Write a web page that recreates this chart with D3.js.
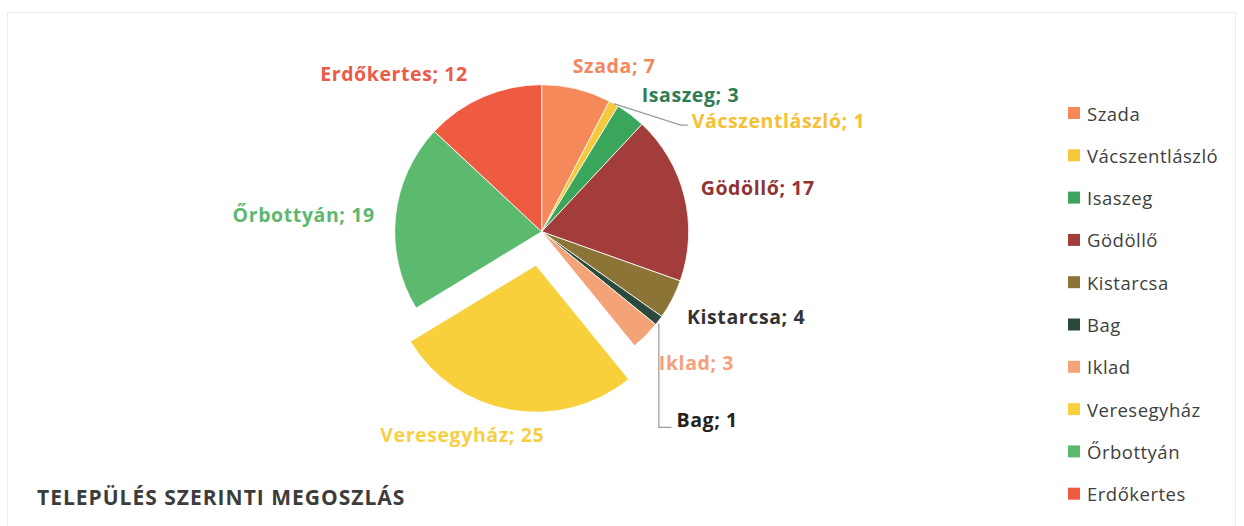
<!DOCTYPE html>
<html>
<head>
<meta charset="utf-8">
<script src="https://cdn.jsdelivr.net/npm/d3@7"></script>
<style>
  body { margin: 0; background: #fff; }
  svg { display: block; font-family: "Open Sans", "Noto Sans", sans-serif; }
</style>
</head>
<body>
<div id="chart"></div>
<script>
// Adatok – település szerinti megoszlás
const towns = ['Szada', 'Vácszentlászló', 'Isaszeg', 'Gödöllő', 'Kistarcsa', 'Bag', 'Iklad', 'Veresegyház', 'Őrbottyán', 'Erdőkertes'];
const counts = [7, 1, 3, 17, 4, 1, 3, 25, 19, 12];

const sliceColors = ['#f5895a', '#f6c83a', '#3aa65c', '#a23d3c', '#8c7436', '#2c4a3c', '#f4a379', '#f8d03c', '#5cba6e', '#ee5b40'];
const labelColors = ['#f4875c', '#f6c036', '#2f7c55', '#8e3434', '#333333', '#222222', '#f4a07c', '#f6cf46', '#5cb870', '#ec5a48'];

// címke eltolások (px) a középponttól számított alappozícióhoz képest
const labelNudge = [[31, 4], [151, 41], [43, 2], [46, -3], [49, 4], [26, 82], [31, 7], [-44, -3], [-64, 1], [-78, 2]];
const leaderFor = { 'Vácszentlászló': 'elbow', 'Bag': 'vertical' };
const explodedTown = 'Veresegyház';

const width = 1244, height = 526;
const cx = 541.7, cy = 231.7, radius = 147;
const explodeDist = 34, labelR = 175;

const svg = d3.select('#chart').append('svg')
  .attr('width', width)
  .attr('height', height);

// halvány diagramkeret
svg.append('rect')
  .attr('x', 7.5)
  .attr('y', 12.5)
  .attr('width', 1228)
  .attr('height', 530)
  .attr('fill', 'none')
  .attr('stroke', '#ececec')
  .attr('stroke-width', 1);

const data = towns.map((t, i) => ({ town: t, value: counts[i], i }));

const pie = d3.pie().sort(null).value(d => d.value);
const arcs = pie(data);
const arc = d3.arc().innerRadius(0).outerRadius(radius);

const g = svg.append('g').attr('transform', `translate(${cx},${cy})`);

function midAngle(d) { return (d.startAngle + d.endAngle) / 2; }
function offsetOf(d) {
  if (d.data.town !== explodedTown) return [0, 0];
  const a = midAngle(d);
  return [Math.sin(a) * explodeDist, -Math.cos(a) * explodeDist];
}

g.selectAll('path.slice')
  .data(arcs)
  .enter()
  .append('path')
  .attr('class', 'slice')
  .attr('d', arc)
  .attr('transform', d => `translate(${offsetOf(d)})`)
  .attr('fill', d => sliceColors[d.data.i])
  .attr('stroke', '#fff')
  .attr('stroke-width', 0.8);

// adatcímkék
const labels = g.selectAll('text.lbl')
  .data(arcs)
  .enter()
  .append('text')
  .attr('class', 'lbl')
  .attr('text-anchor', 'middle')
  .attr('dominant-baseline', 'central')
  .style('font-size', '19.5px')
  .style('letter-spacing', '0.6px')
  .style('font-weight', 700)
  .attr('fill', d => labelColors[d.data.i])
  .each(function(d) {
    const a = midAngle(d);
    const off = offsetOf(d);
    const n = labelNudge[d.data.i];
    d.lx = Math.sin(a) * labelR + off[0] + n[0];
    d.ly = -Math.cos(a) * labelR + off[1] + n[1];
  })
  .attr('x', d => d.lx)
  .attr('y', d => d.ly)
  .text(d => `${d.data.town}; ${d.data.value}`);

// vezetővonalak
labels.each(function(d) {
  const kind = leaderFor[d.data.town];
  if (!kind) return;
  const w = this.getComputedTextLength();
  const a = midAngle(d);
  const sx = Math.sin(a) * radius, sy = -Math.cos(a) * radius;
  const left = d.lx - w / 2;
  let pts;
  if (kind === 'elbow') {
    pts = [[sx, sy], [left - 11, d.ly + 5], [left - 4, d.ly + 5]];
  } else {
    pts = [[sx, sy + 3], [sx, d.ly + 8], [left - 5, d.ly + 8]];
  }
  g.append('path')
    .attr('d', d3.line()(pts))
    .attr('fill', 'none')
    .attr('stroke', '#9a9a9a')
    .attr('stroke-width', 1.2);
});

// jelmagyarázat
const legend = svg.append('g').attr('transform', 'translate(1068,113)');
const legendStep = 42.3;
const items = legend.selectAll('g.item')
  .data(data)
  .enter()
  .append('g')
  .attr('class', 'item')
  .attr('transform', d => `translate(0,${d.i * legendStep})`);

items.append('rect')
  .attr('x', 0)
  .attr('y', -6)
  .attr('width', 12)
  .attr('height', 12)
  .attr('fill', d => sliceColors[d.i]);

items.append('text')
  .attr('x', 19)
  .attr('y', 0)
  .attr('dominant-baseline', 'central')
  .style('font-size', '18.5px')
  .style('letter-spacing', '0.5px')
  .attr('fill', '#404040')
  .text(d => d.town);

// cím
svg.append('text')
  .attr('x', 37)
  .attr('y', 497)
  .attr('dominant-baseline', 'central')
  .style('font-size', '21px')
  .style('letter-spacing', '1px')
  .style('font-weight', 700)
  .attr('fill', '#3c3c3c')
  .text('TELEPÜLÉS SZERINTI MEGOSZLÁS');
</script>
</body>
</html>
